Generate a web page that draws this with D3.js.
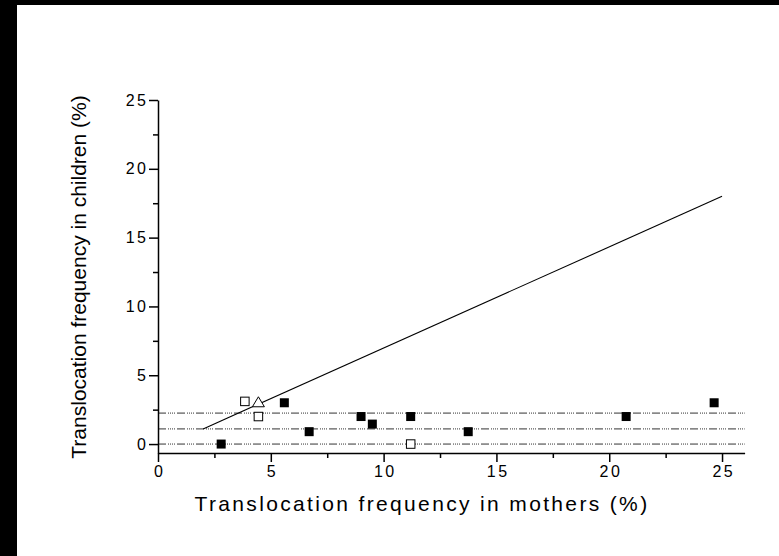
<!DOCTYPE html>
<html>
<head>
<meta charset="utf-8">
<title>Translocation frequency</title>
<script src="https://cdnjs.cloudflare.com/ajax/libs/d3/7.8.5/d3.min.js"></script>
<style>
  body { margin: 0; background: #fff; }
  svg { display: block; font-family: "Liberation Sans", Arial, sans-serif; }
  .axis path, .axis line { stroke: #000; stroke-width: 1.5; }
  .axis text { font-size: 16px; fill: #000; letter-spacing: 2.5px; }
  .ref { fill: none; stroke: #333; stroke-width: 1; stroke-dasharray: 8,2,1,1,1,1,1,1,1,2; }
  .fit { fill: none; stroke: #000; stroke-width: 1.1; }
</style>
</head>
<body>
<svg width="779" height="556"></svg>
<script>
// mothers' frequency (x) and children's frequency (y), in %
var filledX = [2.8, 5.6, 6.7, 9.0, 9.5, 11.2, 13.75, 20.75, 24.65];
var filledY = [0.0, 3.0, 0.9, 2.0, 1.45, 2.0, 0.9, 2.0, 3.0];
var openX = [3.85, 4.45, 11.2];
var openY = [3.1, 2.0, 0.0];
var triX = [4.45];
var triY = [3.0];
// fitted line end points
var fitX = [2, 25];
var fitY = [1.1, 18];
// dotted reference levels
var refLevels = [0, 1.1, 2.25];

var xTicks = [0, 5, 10, 15, 20, 25];
var yTicks = [0, 5, 10, 15, 20, 25];
var minorTicks = [2.5, 7.5, 12.5, 17.5, 22.5];

var svg = d3.select("svg");

// black frame strips on the left and top
svg.append("rect").attr("x", 0).attr("y", 0).attr("width", 779).attr("height", 556).attr("fill", "#fff");
svg.append("rect").attr("x", 0).attr("y", 0).attr("width", 17).attr("height", 556).attr("fill", "#000");
svg.append("rect").attr("x", 0).attr("y", 0).attr("width", 779).attr("height", 5).attr("fill", "#000");

var x = d3.scaleLinear().domain([0, 26]).range([158, 744.6]);
var y = d3.scaleLinear().domain([-0.65, 25]).range([453, 100]);

// reference lines
svg.selectAll(".ref")
  .data(refLevels)
  .enter().append("line")
    .attr("class", "ref")
    .attr("x1", x(0)).attr("x2", x(26))
    .attr("y1", function(d) { return y(d); })
    .attr("y2", function(d) { return y(d); });

// axes
var xAxis = svg.append("g")
    .attr("class", "axis")
    .attr("transform", "translate(0," + y(-0.65) + ")")
    .call(d3.axisBottom(x).tickValues(xTicks).tickSize(9).tickSizeOuter(0).tickPadding(4));
xAxis.selectAll("text").attr("dx", "1.25px");

svg.append("g")
    .attr("class", "axis")
    .attr("transform", "translate(0," + y(-0.65) + ")")
    .call(d3.axisBottom(x).tickValues(minorTicks).tickSize(5).tickFormat(""))
    .select(".domain").remove();

var yAxis = svg.append("g")
    .attr("class", "axis")
    .attr("transform", "translate(" + x(0) + ",0)")
    .call(d3.axisLeft(y).tickValues(yTicks).tickSize(9).tickSizeOuter(0).tickPadding(3));
yAxis.selectAll("text").attr("dx", "2.5px");

svg.append("g")
    .attr("class", "axis")
    .attr("transform", "translate(" + x(0) + ",0)")
    .call(d3.axisLeft(y).tickValues(minorTicks).tickSize(5).tickFormat(""))
    .select(".domain").remove();

// fitted line
svg.append("line")
    .attr("class", "fit")
    .attr("x1", x(fitX[0])).attr("y1", y(fitY[0]))
    .attr("x2", x(fitX[1])).attr("y2", y(fitY[1]));

// filled squares
var s = 9;
svg.selectAll(".filled")
  .data(d3.zip(filledX, filledY))
  .enter().append("rect")
    .attr("class", "filled")
    .attr("x", function(d) { return x(d[0]) - s / 2; })
    .attr("y", function(d) { return y(d[1]) - s / 2; })
    .attr("width", s).attr("height", s)
    .attr("fill", "#000");

// open squares
var so = 8.5;
svg.selectAll(".open")
  .data(d3.zip(openX, openY))
  .enter().append("rect")
    .attr("class", "open")
    .attr("x", function(d) { return x(d[0]) - so / 2; })
    .attr("y", function(d) { return y(d[1]) - so / 2; })
    .attr("width", so).attr("height", so)
    .attr("fill", "#fff").attr("stroke", "#000").attr("stroke-width", 1);

// open triangle
svg.selectAll(".tri")
  .data(d3.zip(triX, triY))
  .enter().append("path")
    .attr("class", "tri")
    .attr("d", function(d) {
      var cx = x(d[0]), cy = y(d[1]);
      return "M" + (cx - 6) + "," + (cy + 4) + "L" + (cx + 6) + "," + (cy + 4) + "L" + cx + "," + (cy - 6) + "Z";
    })
    .attr("fill", "#fff").attr("stroke", "#000").attr("stroke-width", 1);

// axis titles
svg.append("text")
    .attr("x", 422).attr("y", 511)
    .attr("text-anchor", "middle")
    .style("font-size", "21px")
    .style("letter-spacing", "2.35px")
    .text("Translocation frequency in mothers (%)");

svg.append("text")
    .attr("transform", "translate(86,277) rotate(-90)")
    .attr("text-anchor", "middle")
    .style("font-size", "21px")
    .text("Translocation frequency in children (%)");
</script>
</body>
</html>
